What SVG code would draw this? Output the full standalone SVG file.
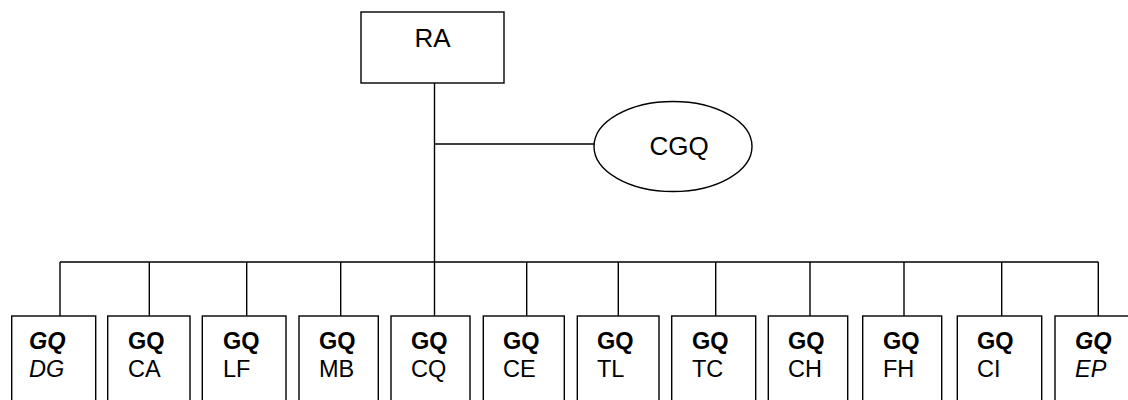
<svg xmlns="http://www.w3.org/2000/svg" width="1128" height="400" viewBox="0 0 1128 400">
<style>
.n{fill:#fff;stroke:#000;stroke-width:1.4}
.c{fill:none;stroke:#000;stroke-width:1.4}
text{font-family:"Liberation Sans",Arial,sans-serif;fill:#000}
.big{font-size:26px}
.t{font-size:23.5px}
.b{font-weight:bold}
.i{font-style:italic}
</style>
<rect width="1128" height="400" fill="#fff"/>
<g id="connectors">
<path class="c" d="M434.5 83V262M434.5 144H594M60 262H1098.3M60 262V316M149.3 262V316M246.7 262V316M340.7 262V316M434.5 262V316M526.7 262V316M618.3 262V316M715.7 262V316M810 262V316M904 262V316M1001.7 262V316M1098.3 262V316"/>
</g>
<g id="RA">
<rect class="n" x="361" y="12" width="143" height="71"/>
<text class="big" x="432.5" y="47" text-anchor="middle">RA</text>
</g>
<g id="CGQ">
<ellipse class="n" cx="673" cy="146.5" rx="79" ry="45"/>
<text class="big" x="679" y="154.5" text-anchor="middle">CGQ</text>
</g>
<g id="GQ-DG">
<rect class="n" x="11.7" y="316" width="84" height="110"/>
<text class="t b i" x="29" y="349">GQ</text>
<text class="t i" x="29" y="377">DG</text>
</g>
<g id="GQ-CA">
<rect class="n" x="107.7" y="316" width="82.3" height="110"/>
<text class="t b" x="128" y="349">GQ</text>
<text class="t" x="128" y="377">CA</text>
</g>
<g id="GQ-LF">
<rect class="n" x="202.3" y="316" width="83.7" height="110"/>
<text class="t b" x="223" y="349">GQ</text>
<text class="t" x="223" y="377">LF</text>
</g>
<g id="GQ-MB">
<rect class="n" x="299" y="316" width="79.3" height="110"/>
<text class="t b" x="319" y="349">GQ</text>
<text class="t" x="319" y="377">MB</text>
</g>
<g id="GQ-CQ">
<rect class="n" x="391" y="316" width="79" height="110"/>
<text class="t b" x="411" y="349">GQ</text>
<text class="t" x="411" y="377">CQ</text>
</g>
<g id="GQ-CE">
<rect class="n" x="483.3" y="316" width="81" height="110"/>
<text class="t b" x="503" y="349">GQ</text>
<text class="t" x="503" y="377">CE</text>
</g>
<g id="GQ-TL">
<rect class="n" x="577.3" y="316" width="81.7" height="110"/>
<text class="t b" x="597" y="349">GQ</text>
<text class="t" x="597" y="377">TL</text>
</g>
<g id="GQ-TC">
<rect class="n" x="671.7" y="316" width="84" height="110"/>
<text class="t b" x="692" y="349">GQ</text>
<text class="t" x="692" y="377">TC</text>
</g>
<g id="GQ-CH">
<rect class="n" x="768.3" y="316" width="79.4" height="110"/>
<text class="t b" x="788" y="349">GQ</text>
<text class="t" x="788" y="377">CH</text>
</g>
<g id="GQ-FH">
<rect class="n" x="862.7" y="316" width="79" height="110"/>
<text class="t b" x="883" y="349">GQ</text>
<text class="t" x="883" y="377">FH</text>
</g>
<g id="GQ-CI">
<rect class="n" x="957.3" y="316" width="84.4" height="110"/>
<text class="t b" x="977" y="349">GQ</text>
<text class="t" x="977" y="377">CI</text>
</g>
<g id="GQ-EP">
<rect class="n" x="1055" y="316" width="84" height="110"/>
<text class="t b i" x="1075" y="349">GQ</text>
<text class="t i" x="1075" y="377">EP</text>
</g>
</svg>
